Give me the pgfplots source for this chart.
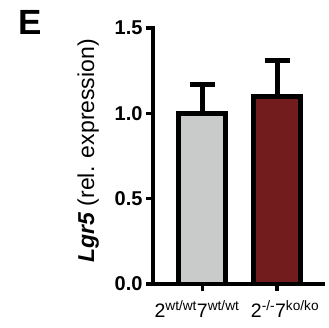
\documentclass[border=0pt]{standalone}
\usepackage{fontspec}
\setmainfont{Liberation Sans}
\usepackage{pgfplots}
\pgfplotsset{compat=1.18}
\definecolor{barGray}{HTML}{C9CBCA}
\definecolor{barRed}{HTML}{721C1E}
\begin{document}
\begin{tikzpicture}[x=1pt,y=1pt]
\path[use as bounding box] (0,0) rectangle (329,-327);
\node[anchor=base west, font=\fontsize{35}{40}\selectfont\bfseries, inner sep=0pt] at (18.5,-34) {E};
\begin{axis}[
  at={(153pt,-284pt)}, anchor=south west,
  scale only axis, width=170pt, height=256pt,
  xmin=-0.664, xmax=1.617, ymin=0, ymax=1.5,
  enlargelimits=false,
  axis x line=bottom, axis y line=left,
  axis line style={-, line width=4.5pt, black, line cap=rect},
  tick align=outside, major tick length=7pt,
  tick style={line width=3.2pt, black},
  xtick={0,1},
  xticklabels={{\hspace*{-11pt}2\textsuperscript{wt/wt}7\textsuperscript{wt/wt}},{\hspace*{16pt}2\textsuperscript{-/-}7\textsuperscript{ko/ko}}},
  x tick label style={font=\fontsize{19.5}{22}\selectfont, yshift=-6pt},
  ytick={0,0.5,1.0,1.5},
  y tick label style={font=\fontsize{20}{22}\selectfont\bfseries},
  yticklabel style={/pgf/number format/.cd, fixed, fixed zerofill, precision=1, assume math mode=true},
  ylabel={\textbf{\textit{Lgr5}} (rel. expression)},
  ylabel style={font=\fontsize{23}{27}\selectfont, at={(axis description cs:-0.382,0.52)}, anchor=center, rotate=0},
  ybar,
]
\addplot[ybar, bar shift=0pt, bar width=47pt, fill=barGray, draw=black, line width=5pt,
  error bars/.cd, y dir=plus, y explicit,
  error bar style={line width=5pt, black},
  error mark options={rotate=90, line width=5pt, mark size=12.5pt, black}]
  coordinates {(0,1.0) +- (0,0.17)};
\addplot[ybar, bar shift=0pt, bar width=47pt, fill=barRed, draw=black, line width=5pt,
  error bars/.cd, y dir=plus, y explicit,
  error bar style={line width=5pt, black},
  error mark options={rotate=90, line width=5pt, mark size=12.5pt, black}]
  coordinates {(1,1.10) +- (0,0.21)};
\end{axis}
\end{tikzpicture}
\end{document}
